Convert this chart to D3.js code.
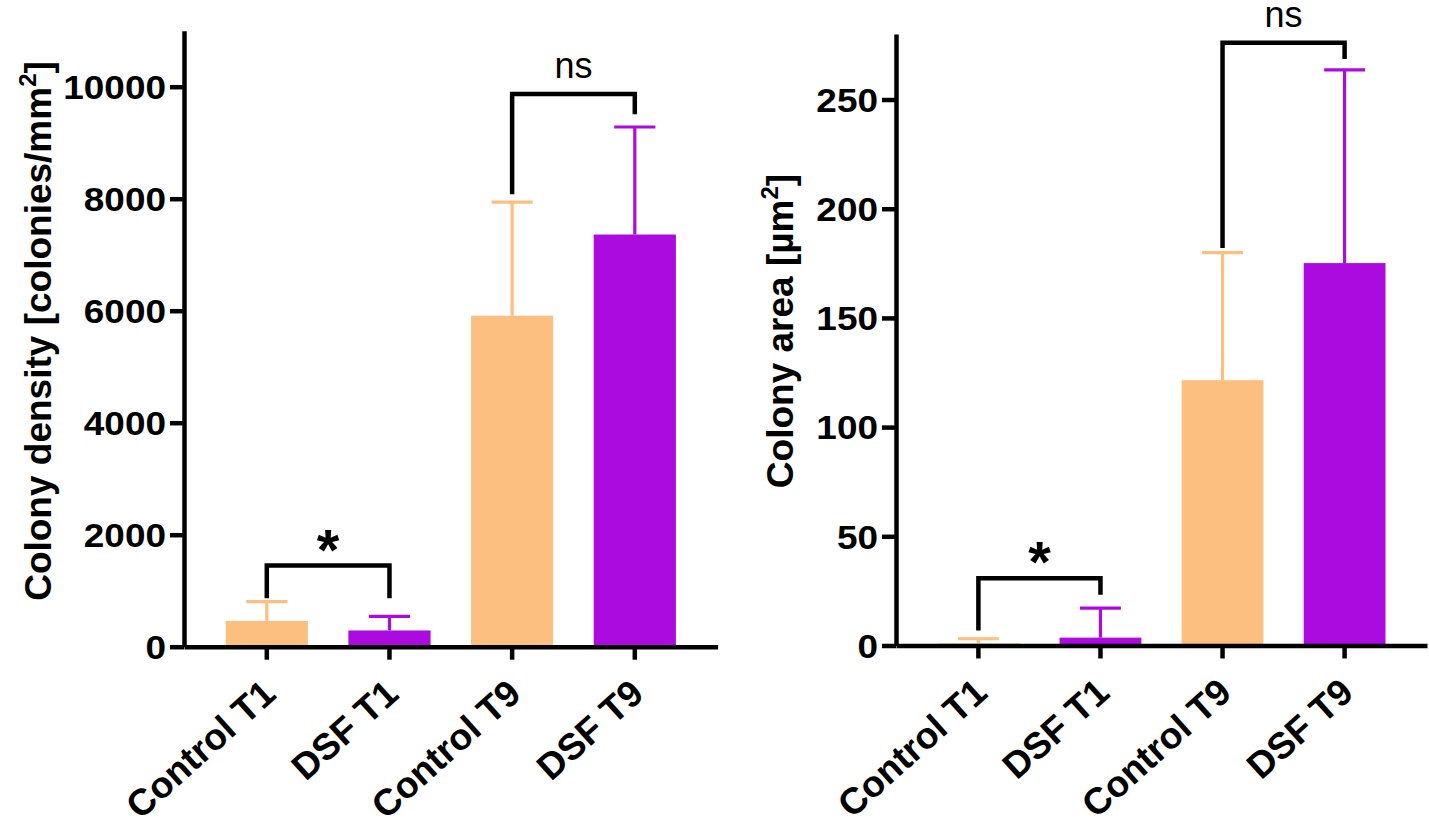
<!DOCTYPE html>
<html>
<head>
<meta charset="utf-8">
<script src="https://cdn.jsdelivr.net/npm/d3@7"></script>
<style>
  body { margin: 0; background: #fff; }
  svg { display: block; font-family: "Liberation Sans", Arial, sans-serif; }
</style>
</head>
<body>
<div id="chart"></div>
<script>
// Data
const groups = ["Control T1", "DSF T1", "Control T9", "DSF T9"];
const barColors = ["#FDBF80", "#AC0BE0", "#FDBF80", "#AC0BE0"];

// Panel A: colony density (mean and SD)
const densityMean = [460, 290, 5910, 7360];
const densitySD = [345, 250, 2030, 1920];
const densityTicks = [0, 2000, 4000, 6000, 8000, 10000];
// brackets: [from, to, top, left leg end, right leg end, label]
const densityBrackets = [
  [0, 1, 1450, 865, 865, "*"],
  [2, 3, 9870, 8080, 9510, "ns"]
];

// Panel B: colony area (mean and SD)
const areaMean = [1.0, 3.6, 121.5, 175.1];
const areaSD = [2.1, 13.5, 58.4, 88.5];
const areaTicks = [0, 50, 100, 150, 200, 250];
const areaBrackets = [
  [0, 1, 30.8, 6.9, 23.2, "*"],
  [2, 3, 276, 182, 268.6, "ns"]
];

const svg = d3.select("#chart")
  .append("svg")
  .attr("width", 1429)
  .attr("height", 827);

function drawPanel(p) {
  const g = svg.append("g");

  const x = d3.scaleBand()
    .domain(groups)
    .range([p.left, p.right])
    .paddingInner(0.33)
    .paddingOuter(0.34);

  const y = d3.scaleLinear()
    .domain([0, p.max])
    .range([p.zero, p.top]);

  // bars
  g.selectAll(".bar")
    .data(groups)
    .enter()
    .append("rect")
    .attr("class", "bar")
    .attr("x", d => x(d))
    .attr("y", (d, i) => y(p.mean[i]))
    .attr("width", x.bandwidth())
    .attr("height", (d, i) => p.zero - y(p.mean[i]))
    .attr("fill", (d, i) => barColors[i]);

  // error bars (upper only)
  const err = g.selectAll(".err")
    .data(groups)
    .enter()
    .append("g")
    .attr("class", "err")
    .attr("stroke", (d, i) => barColors[i])
    .attr("stroke-width", 3.2);

  err.append("line")
    .attr("x1", d => x(d) + x.bandwidth() / 2)
    .attr("x2", d => x(d) + x.bandwidth() / 2)
    .attr("y1", (d, i) => y(p.mean[i]))
    .attr("y2", (d, i) => y(p.mean[i] + p.sd[i]));

  err.append("line")
    .attr("x1", d => x(d) + x.bandwidth() / 4)
    .attr("x2", d => x(d) + x.bandwidth() * 3 / 4)
    .attr("y1", (d, i) => y(p.mean[i] + p.sd[i]))
    .attr("y2", (d, i) => y(p.mean[i] + p.sd[i]));

  // y axis
  const yAxis = g.append("g")
    .attr("transform", `translate(${p.left},0)`)
    .call(d3.axisLeft(y).tickValues(p.ticks).tickFormat(d3.format("d"))
      .tickSize(14).tickSizeOuter(0).tickPadding(4));
  yAxis.select(".domain").attr("stroke-width", 4.5);
  yAxis.selectAll(".tick line").attr("stroke-width", 4.5);
  yAxis.selectAll(".tick text")
    .attr("fill", "#000")
    .attr("font-size", 33)
    .attr("font-weight", "bold")
    .attr("font-family", "'Liberation Sans', Arial, sans-serif")
    .attr("x", -18 / 1.12)
    .attr("dy", "0.36em")
    .attr("transform", "scale(1.12,1)");

  // x axis
  const xAxis = g.append("g")
    .attr("transform", `translate(0,${p.zero})`)
    .call(d3.axisBottom(x).tickSize(13).tickSizeOuter(0));
  xAxis.select(".domain").attr("stroke-width", 4.5);
  xAxis.selectAll(".tick line").attr("stroke-width", 4.5);
  xAxis.selectAll(".tick text")
    .attr("fill", "#000")
    .attr("font-size", 37)
    .attr("font-weight", "bold")
    .attr("font-family", "'Liberation Sans', Arial, sans-serif")
    .attr("text-anchor", "end")
    .attr("x", null)
    .attr("y", null)
    .attr("dy", null)
    .attr("transform", "translate(11,50) rotate(-42)");

  // significance brackets
  p.brackets.forEach(b => {
    const xl = x(groups[b[0]]) + x.bandwidth() / 2;
    const xr = x(groups[b[1]]) + x.bandwidth() / 2;
    g.append("path")
      .attr("d", `M${xl},${y(b[3])}V${y(b[2])}H${xr}V${y(b[4])}`)
      .attr("fill", "none")
      .attr("stroke", "#000")
      .attr("stroke-width", 4.5);
    const t = g.append("text")
      .attr("x", (xl + xr) / 2)
      .attr("text-anchor", "middle")
      .attr("fill", "#000")
      .text(b[5]);
    if (b[5] === "*") {
      t.attr("y", y(b[2]) + 4).attr("font-size", 58).attr("font-weight", "bold");
    } else {
      t.attr("y", y(b[2]) - 16).attr("font-size", 36);
    }
  });

  // y title
  const title = g.append("text")
    .attr("transform", `translate(${p.titleX},${p.titleY}) rotate(-90)`)
    .attr("text-anchor", "middle")
    .attr("font-size", 37)
    .attr("font-weight", "bold")
    .attr("fill", "#000");
  title.append("tspan").text(p.title);
  title.append("tspan").attr("font-size", 24).attr("dy", -15).text("2");
  title.append("tspan").attr("dy", 15).text("]");
}

drawPanel({
  left: 184, right: 717.6, zero: 646.7, top: 30.7, max: 11000,
  mean: densityMean, sd: densitySD, ticks: densityTicks, brackets: densityBrackets,
  title: "Colony density [colonies/mm", titleX: 51, titleY: 331
});

drawPanel({
  left: 896, right: 1427, zero: 645.5, top: 34, max: 280,
  mean: areaMean, sd: areaSD, ticks: areaTicks, brackets: areaBrackets,
  title: "Colony area [µm", titleX: 793, titleY: 331
});
</script>
</body>
</html>
